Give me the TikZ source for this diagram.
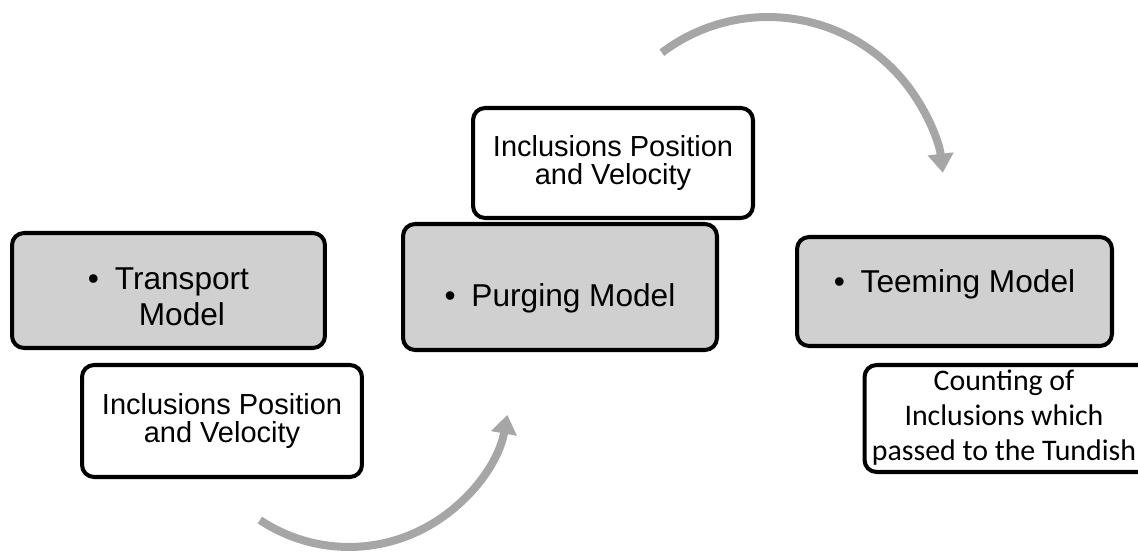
\documentclass[tikz,border=0pt]{standalone}
\usepackage{fontspec}
\setmainfont{Liberation Sans}
\newfontfamily\calibrifont{Carlito}
\usetikzlibrary{arrows.meta}

\definecolor{boxgray}{RGB}{208,208,208}
\definecolor{arrowgray}{RGB}{166,166,166}

\tikzset{
  modelbox/.style={draw=black, line width=2.3pt, rounded corners=0.24cm, fill=boxgray,
    align=center, inner sep=0pt, font=\fontsize{18pt}{20pt}\selectfont},
  outbox/.style={draw=black, line width=2.3pt, rounded corners=0.24cm, fill=white,
    align=center, inner sep=0pt, font=\fontsize{16.5pt}{16.5pt}\selectfont},
  flow/.style={draw=arrowgray, line width=0.16cm, -{Triangle[width=0.5cm,length=0.38cm]}}
}

\begin{document}
\begin{tikzpicture}[x=0.02cm,y=0.02cm]
  \useasboundingbox (0,0) rectangle (1138,552);
  % transport model and its output
  \node [modelbox, minimum width=6.26cm, minimum height=2.3cm, text height=25.4pt] (transport) at (168.5,261.5)
    {\textbullet\enspace\begin{tabular}[t]{@{}c@{}}Transport\\Model\end{tabular}};
  \node [outbox, minimum width=5.6cm, minimum height=2.24cm] (transportout) at (222,131)
    {Inclusions Position\\and Velocity};
  % purging model and its output
  \node [modelbox, minimum width=6.28cm, minimum height=2.52cm, text height=25.5pt] (purging) at (560,265)
    {\textbullet\enspace Purging Model};
  \node [outbox, minimum width=5.6cm, minimum height=2.2cm] (purgingout) at (613,389)
    {Inclusions Position\\and Velocity};
  % teeming model and its output (box runs past the right edge)
  \node [modelbox, minimum width=6.3cm, minimum height=2.18cm, text depth=11.8pt] (teeming) at (954.5,260.5)
    {\textbullet\enspace Teeming Model};
  \node [outbox, minimum width=5.9cm, minimum height=2.14cm,
    font=\calibrifont\fontsize{17pt}{20pt}\selectfont] (teemingout) at (1012,133.5)
    {\begin{tabular}{@{}c@{}}Counting of\\Inclusions which\\passed to the Tundish\end{tabular}\hspace{0.32cm}};
  % curved arrows between the steps
  \coordinate (lowturn) at (349,166);
  \coordinate (highturn) at (768,359);
  \draw [flow] ([shift={(236.4:3.22cm)}]lowturn) arc [start angle=236.4, end angle=349.7, radius=3.22cm];
  \draw [flow] ([shift={(127.1:3.52cm)}]highturn) arc [start angle=127.1, end angle=6.6, radius=3.52cm];
\end{tikzpicture}
\end{document}
